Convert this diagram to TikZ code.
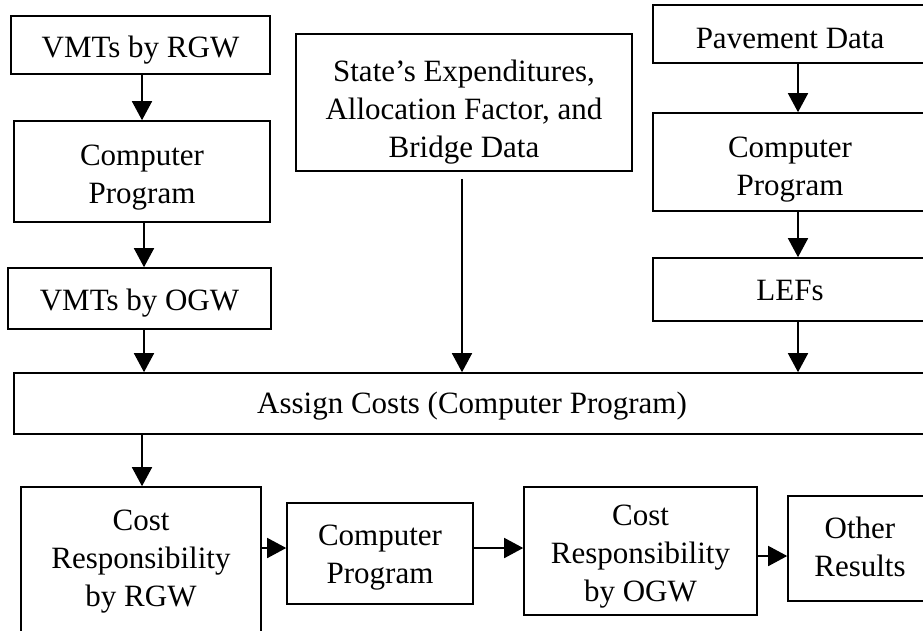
\documentclass[tikz,border=0pt]{standalone}
\usepackage{fontspec}
\setmainfont{Liberation Serif}
\usetikzlibrary{arrows.meta}
\newcommand\tup[1]{\rule{0pt}{\dimexpr 21pt+#1pt*2\relax}}
\newcommand\tdn{\rule[-7pt]{0pt}{7pt}}
\tikzset{
  box/.style={draw, line width=1.6pt, inner sep=0pt, align=center,
    font=\fontsize{31}{38}\selectfont},
  arr/.style={line width=1.6pt, -{Triangle[length=19pt,width=20pt]}}
}
\begin{document}
\begin{tikzpicture}[x=1pt,y=-1pt]
\useasboundingbox (0,0) rectangle (923,630);
\clip (0,0) rectangle (923,630);
\fill[white] (0,0) rectangle (923,630);
% left column
\node[box, minimum width=259pt, minimum height=58pt] (A) at (140.5,45) {\tup{5}VMTs by RGW\tdn};
\node[box, minimum width=256pt, minimum height=101pt] (B) at (142,171.5) {\tup{5.5}Computer\\Program\tdn};
\node[box, minimum width=263pt, minimum height=61pt] (C) at (139.5,298.5) {\tup{4.5}VMTs by OGW\tdn};
% middle
\node[box, minimum width=336pt, minimum height=137pt] (D) at (464,102.5) {\tup{10}State’s Expenditures,\\Allocation Factor, and\\Bridge Data\tdn};
% right column
\node[box, minimum width=274pt, minimum height=58pt] (E) at (790,34) {\tup{7}Pavement Data\tdn};
\node[box, minimum width=274pt, minimum height=98pt] (F) at (790,162) {\tup{7}Computer\\Program\tdn};
\node[box, minimum width=274pt, minimum height=63pt] (G) at (790,289.5) {\tup{4}LEFs\tdn};
% assign
\node[box, minimum width=916pt, minimum height=61pt] (H) at (472,403.5) {\tup{2.5}Assign Costs (Computer Program)\tdn};
% bottom row
\node[box, minimum width=240pt, minimum height=148pt] (I) at (141,561) {\tup{0}Cost\\Responsibility\\by RGW\tdn};
\node[box, minimum width=186pt, minimum height=101pt] (J) at (380,553.5) {\tup{3.5}Computer\\Program\tdn};
\node[box, minimum width=233pt, minimum height=128pt] (K) at (640.5,551) {\tup{5}Cost\\Responsibility\\by OGW\tdn};
\node[box, minimum width=144pt, minimum height=105pt] (L) at (860,548.5) {\tup{1.5}Other\\Results\tdn};
% arrows
\draw[arr] (B.north |- A.south) -- (B.north);
\draw[arr] ([xshift=2pt]B.south) -- ([xshift=2pt]B.south |- C.north);
\draw[arr] ([xshift=4.5pt]C.south) -- ([xshift=4.5pt]C.south |- H.north);
\draw[arr] ([yshift=-7pt,xshift=-2pt]D.south) -- ([xshift=-2pt]D.south |- H.north);
\draw[arr] ([xshift=8pt]E.south) -- ([xshift=8pt]F.north);
\draw[arr] ([xshift=8pt]F.south) -- ([xshift=8pt]G.north);
\draw[arr] ([xshift=8pt]G.south) -- ([xshift=8pt]G.south |- H.north);
\draw[arr] ([xshift=1pt]H.south -| I.north) -- ([xshift=1pt]I.north);
\draw[arr] ([yshift=5.5pt]I.east |- J.west) -- ([yshift=5.5pt]J.west);
\draw[arr] ([yshift=5.5pt]J.east) -- ([yshift=5.5pt]J.east -| K.west);
\draw[arr] ([yshift=-5pt]K.east) -- ([yshift=-5pt]K.east -| L.west);
\end{tikzpicture}
\end{document}
